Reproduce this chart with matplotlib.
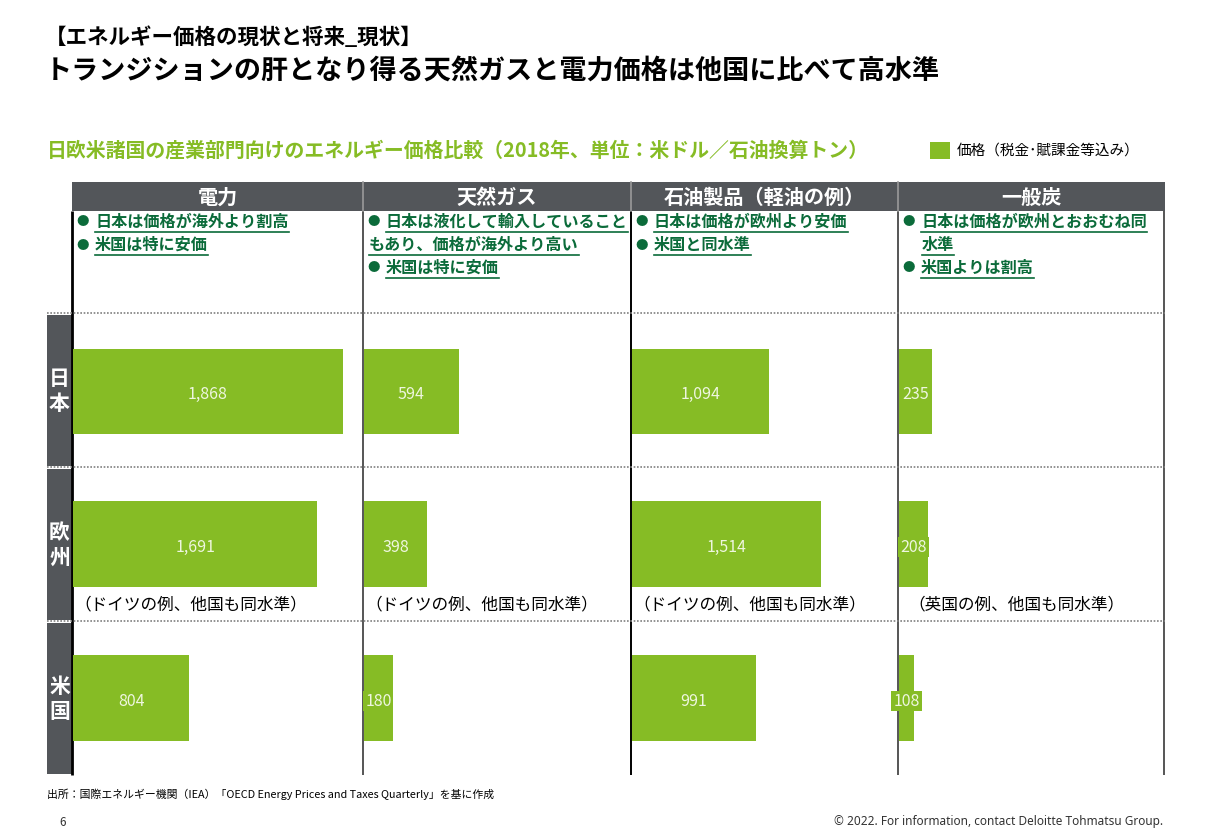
import matplotlib
matplotlib.use('Agg')
import matplotlib.pyplot as plt
from matplotlib.patches import Rectangle

plt.rcParams['font.family'] = ['Noto Sans CJK JP', 'DejaVu Sans']

W, H = 1213, 832

# data
categories = ['電力', '天然ガス', '石油製品（軽油の例）', '一般炭']
regions = ['日本', '欧州', '米国']
japan = [1868, 594, 1094, 235]
europe = [1691, 398, 1514, 208]
usa = [804, 180, 991, 108]
notes = ['（ドイツの例、他国も同水準）', '（ドイツの例、他国も同水準）',
         '（ドイツの例、他国も同水準）', '（英国の例、他国も同水準）']
bullets = [
    [['日本は価格が海外より割高'], ['米国は特に安価']],
    [['日本は液化して輸入していること', 'もあり、価格が海外より高い'], ['米国は特に安価']],
    [['日本は価格が欧州より安価'], ['米国と同水準']],
    [['日本は価格が欧州とおおむね同', '水準'], ['米国よりは割高']],
]

GREEN = '#86BC25'
DKGREEN = '#0B6B3A'
GRAY = '#53565A'

# layout in pixels
col_edges = [72, 363, 631, 898, 1164]
col_xmax = [2006, 1676, 2130, 1900]
wrap_indent = [23, 6, 23, 24]
note_dx = [2, 2, 2, 10]
head_top, head_bot = 182, 211
body_top, body_bot = 313, 775
row_h = (body_bot - body_top) / 3

fig = plt.figure(figsize=(W / 100, H / 100), dpi=100)
bg = fig.add_axes([0, 0, 1, 1])
bg.set_xlim(0, W)
bg.set_ylim(H, 0)
bg.axis('off')

# titles
bg.text(45, 37, '【エネルギー価格の現状と将来_現状】', fontsize=15.5, fontweight='bold',
        va='center', ha='left')
bg.text(45, 71, 'トランジションの肝となり得る天然ガスと電力価格は他国に比べて高水準',
        fontsize=19.5, fontweight='bold', va='center', ha='left')
bg.text(47, 150, '日欧米諸国の産業部門向けのエネルギー価格比較（2018年、単位：米ドル／石油換算トン）',
        fontsize=14.3, fontweight='bold', color=GREEN, va='center', ha='left')

# legend
bg.add_patch(Rectangle((930, 142), 20, 17, color=GREEN, lw=0))
bg.text(957, 151, '価格（税金･賦課金等込み）', fontsize=10.5, va='center', ha='left')

# header bar
bg.add_patch(Rectangle((col_edges[0], head_top), col_edges[-1] - col_edges[0] + 1,
                       head_bot - head_top, color=GRAY, lw=0))
for i, cat in enumerate(categories):
    cx = (col_edges[i] + col_edges[i + 1]) / 2
    bg.text(cx, (head_top + head_bot) / 2 + 1, cat, color='white', fontsize=14.5,
            fontweight='bold', ha='center', va='center')

# column separators
for i, x in enumerate(col_edges):
    c = 'black' if i in (0, 2) else '#555555'
    lw = 2 if i == 0 else 1.4
    bg.plot([x, x], [head_bot, body_bot], color=c, lw=lw, solid_capstyle='butt')
    if 0 < i < len(col_edges) - 1:
        bg.plot([x, x], [head_top, head_bot], color='#9A9A9A', lw=1.2)

# dotted row lines
for k in range(3):
    y = body_top + k * row_h
    bg.plot([47, 1165], [y, y], color='#808080', lw=1.2, ls=(0, (1, 1)))

# row label boxes
for k, reg in enumerate(regions):
    y0 = body_top + k * row_h + 2
    bg.add_patch(Rectangle((47, y0), 25, row_h - 3, color=GRAY, lw=0))
    bg.text(59.5, y0 + row_h / 2 - 1, '\n'.join(reg), color='white', fontsize=15,
            fontweight='bold', ha='center', va='center', linespacing=1.2)

# bullets
bullet_texts = []
for i in range(4):
    y = 222
    for item in bullets[i]:
        bg.text(col_edges[i] + 4, y, '●', color=DKGREEN, fontsize=9, ha='left', va='center')
        for j, line in enumerate(item):
            x = col_edges[i] + 23 if j == 0 else col_edges[i] + wrap_indent[i]
            t = bg.text(x, y, line, color=DKGREEN, fontsize=11.6, fontweight='bold',
                        ha='left', va='center')
            bullet_texts.append((t, y))
            y += 23

# bars, one axes per column
values = [japan, europe, usa]
for i in range(4):
    x0, x1 = col_edges[i] + 1, col_edges[i + 1]
    ax = fig.add_axes([x0 / W, 1 - body_bot / H, (x1 - x0) / W, (body_bot - body_top) / H])
    ax.patch.set_alpha(0)
    ax.set_xlim(0, col_xmax[i])
    ax.set_ylim(3, 0)
    ax.axis('off')
    vals = [v[i] for v in values]
    ypos = [0.51, 1.5, 2.5]
    ax.barh(ypos, vals, height=0.555, color=GREEN, lw=0)
    for yv, v in zip(ypos, vals):
        ax.text(v / 2, yv + 0.02, f'{v:,}', color='#EEF6DF', fontsize=11.5, ha='center', va='center',
                bbox=dict(boxstyle='square,pad=0.12', fc=GREEN, ec='none'))
    bg.text(col_edges[i] + note_dx[i], 605, notes[i], fontsize=12, ha='left', va='center')

# footer
bg.text(47, 794, '出所：国際エネルギー機関（IEA）「OECD Energy Prices and Taxes Quarterly」を基に作成',
        fontsize=7.8, ha='left', va='center')
bg.text(63, 822, '6', fontsize=8.5, ha='center', va='center', color='#333333')
bg.text(1163, 822, '© 2022. For information, contact Deloitte Tohmatsu Group.',
        fontsize=8.5, ha='right', va='center', color='#333333', family=['Noto Sans', 'DejaVu Sans'])

# underline the bullet texts
fig.canvas.draw()
inv = bg.transData.inverted()
for t, y in bullet_texts:
    bb = t.get_window_extent()
    (xa, _), (xb, _) = inv.transform([[bb.x0, bb.y0], [bb.x1, bb.y0]])
    bg.plot([xa, xb], [y + 10, y + 10], color=DKGREEN, lw=1.2)

fig.savefig('out.png', dpi=100)
